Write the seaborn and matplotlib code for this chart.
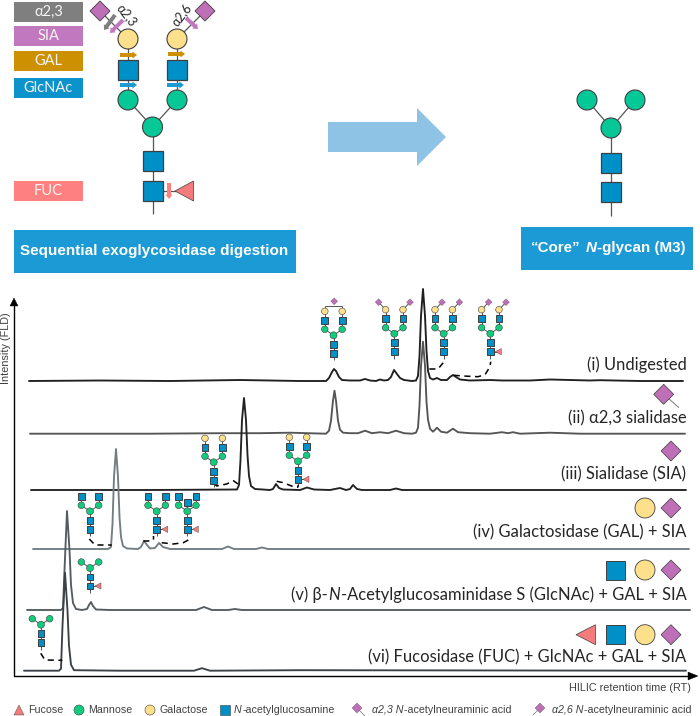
import matplotlib
matplotlib.use("Agg")
import matplotlib.pyplot as plt
from matplotlib.patches import Circle, Rectangle, Polygon, FancyArrow
import pandas as pd
import seaborn as sns

# chromatogram traces (retention position, peak height)
trace_i_rt = [29, 100, 170, 240, 300, 326, 329, 332, 334, 336, 339, 342, 350, 360, 365, 370, 376, 380, 384, 388, 391, 394, 397, 400, 404, 412, 416, 418, 419.5, 421, 423, 425, 426.5, 428, 430, 433, 437, 441, 447, 450, 453, 456, 460, 470, 490, 502, 530, 550, 590, 600, 640, 683]
trace_i_h = [0, 0.5, 0, 1, 0, 0, 3, 9, 12, 10, 4, 1, 0.5, 0.5, 2, 0.5, 0, 1.5, 0.5, 1, 4, 11, 7, 3, 1, 0, 0.5, 5, 25, 65, 92, 65, 30, 10, 3, 1.5, 3, 1, 1, 4, 6, 4, 1.5, 0.5, 1, 0.5, 0.5, 1.5, 0.5, 0.8, 0, 0]

trace_ii_rt = [30, 150, 220, 260, 290, 326, 329, 331, 333, 334.5, 336, 338, 340, 343, 350, 358, 365, 372, 380, 388, 396, 404, 412, 416, 418, 419.5, 421, 423, 425, 426.5, 428, 430, 433, 437, 441, 447, 453, 458, 470, 490, 502, 508, 513, 520, 550, 580, 685]
trace_ii_h = [0, 0, 0.5, 0.5, 1, 0, 3, 13, 33, 43, 33, 13, 4, 1, 0.5, 0.5, 3, 0.5, 1.5, 0.5, 3, 0.5, 0, 1, 6, 28, 68, 92, 68, 32, 14, 5, 2, 6, 2, 1, 5, 1.5, 0.5, 0, 1.5, 0.5, 1.5, 0, 1, 0, 0]

trace_iii_rt = [31, 150, 237, 239, 240.5, 242, 244, 246, 247.5, 249, 251, 255, 270, 273, 276, 279, 283, 300, 307, 314, 330, 340, 346, 350, 353, 357, 362, 390, 396, 402, 686]
trace_iii_h = [0, 0, 0.5, 5, 30, 70, 92, 70, 35, 14, 4, 1, 0, 1, 6, 2, 0.5, 0, 2.5, 0.5, 0, 2, 0, 1, 5, 1, 0, 0, 1.5, 0, 0]

trace_iv_rt = [33, 108, 111, 112.5, 114, 116, 118, 119.5, 121, 123, 127, 138, 141, 144, 147, 150, 155, 159, 163, 170, 222, 228, 234, 256, 262, 268, 689]
trace_iv_h = [0, 0, 2, 25, 72, 100, 72, 32, 12, 3, 0.5, 0, 2, 8, 4, 0.5, 1, 6, 2, 0, 0, 2.5, 0, 0, 1.5, 0, 0]

trace_v_rt = [27, 61, 63, 64.5, 67, 69.5, 71, 73, 76, 82, 87, 89, 91, 93, 96, 110, 196, 204, 212, 228, 235, 242, 690]
trace_v_h = [0, 0, 2, 40, 99, 60, 25, 7, 1, 0, 1, 5, 8, 4, 0.5, 0, 0, 3, 0, 0, 1, 0, 0]

trace_vi_rt = [24, 59, 61, 62.5, 65, 67.5, 69, 71, 74, 120, 194, 202, 210, 300, 686]
trace_vi_h = [0, 0, 2, 45, 98, 60, 25, 6, 0.5, 0, 0, 2.5, 0, 0.5, 0]

trace_rts = [trace_i_rt, trace_ii_rt, trace_iii_rt, trace_iv_rt, trace_v_rt, trace_vi_rt]
trace_heights = [trace_i_h, trace_ii_h, trace_iii_h, trace_iv_h, trace_v_h, trace_vi_h]
trace_baselines = [381, 433.7, 490, 549, 610, 670.7]
trace_colors = ["#1f1f1f", "#555555", "#222222", "#737c82", "#545c62", "#3c4146"]

trace_labels = [
    [("(i) Undigested", "normal")],
    [("(ii) α2,3 sialidase", "normal")],
    [("(iii) Sialidase (SIA)", "normal")],
    [("(iv) Galactosidase (GAL) + SIA", "normal")],
    [("(v) β-", "normal"), ("N", "italic"), ("-Acetylglucosaminidase S (GlcNAc) + GAL + SIA", "normal")],
    [("(vi) Fucosidase (FUC) + GlcNAc + GAL + SIA", "normal")],
]
label_y = [364.5, 418, 474.5, 532.5, 595, 657.5]

box_names = ["α2,3", "SIA", "GAL", "GlcNAc", "FUC"]
box_tops = [2, 26, 51, 78, 181]
box_colors = ["#7f7f7f", "#c278bf", "#cc9000", "#0d93cb", "#ff8080"]

MAN = "#06c896"
MAN_SMALL = "#10cc7c"
GAL = "#fde08c"
GLC = "#0090c8"
SIA = "#bf6fb8"
FUC = "#f47c7c"
EDGE = "#3f3f3f"
LINK = "#555555"

plt.rcdefaults()
sns.set_style("white")
plt.rcParams["font.family"] = ["Lato", "DejaVu Sans"]

fig = plt.figure(figsize=(7.0, 7.16), dpi=100)
ax = fig.add_axes([0, 0, 1, 1])
ax.set_xlim(0, 700)
ax.set_ylim(716, 0)
ax.axis("off")


def circle(x, y, r, color, lw=0.6):
    ax.add_patch(Circle((x, y), r, fc=color, ec=EDGE, lw=lw, zorder=4))


def square(x, y, s, color=GLC, lw=0.7):
    ax.add_patch(Rectangle((x - s / 2, y - s / 2), s, s, fc=color, ec=EDGE, lw=lw, zorder=4))


def diamond(x, y, r, lw=0.5):
    ax.add_patch(Polygon([(x - r, y), (x, y - r), (x + r, y), (x, y + r)], fc=SIA, ec=EDGE, lw=lw, zorder=4))


def triangle(x_tip, x_back, y, half, lw=0.5):
    ax.add_patch(Polygon([(x_tip, y), (x_back, y - half), (x_back, y + half)], fc=FUC, ec=EDGE, lw=lw, zorder=4))


def link(x1, y1, x2, y2, color=LINK, lw=0.7):
    ax.plot([x1, x2], [y1, y2], color=color, lw=lw, zorder=2, solid_capstyle="butt")


def small_glycan(x, root, gal=True, sia=None, fuc=False, bisect=False):
    # same layout for every little structure above the peaks
    arm = 8.7
    r_c, s_q = 3.3, 6.7
    link(x, root + 7, x, root - 18)
    square(x, root, s_q)
    square(x, root - 9, s_q)
    circle(x, root - 18, r_c + 0.2, MAN_SMALL, 0.4)
    for side in (-1, 1):
        ax_x = x + side * arm
        link(x, root - 18, ax_x, root - 24)
        circle(ax_x, root - 24, r_c, MAN_SMALL, 0.4)
    if fuc:
        link(x, root, x + 9, root)
        triangle(x + 5, x + 11, root, 3.2, 0.3)
    if bisect:
        square(x, root - 27, s_q)
        link(x, root - 18, x, root - 27)
    if gal is None:
        return
    for side in (-1, 1):
        ax_x = x + side * arm
        link(ax_x, root - 24, ax_x, root - 42 if gal else root - 33)
        square(ax_x, root - 33, s_q)
        if gal:
            circle(ax_x, root - 42, r_c, GAL, 0.4)
    if sia == "one":
        link(x - arm, root - 47, x + arm, root - 47)
        link(x - arm, root - 42, x - arm, root - 47)
        link(x + arm, root - 42, x + arm, root - 47)
        diamond(x + 0.7, root - 52, 3.4, 0.2)
    elif sia == "outer":
        for side in (-1, 1):
            ax_x = x + side * arm
            link(ax_x, root - 42, ax_x + side * 7, root - 49.5)
            diamond(ax_x + side * 7, root - 49.5, 3.4, 0.2)
    elif sia == "right":
        for side in (-1, 1):
            ax_x = x + side * arm
            link(ax_x, root - 42, ax_x + 7, root - 49.5)
            diamond(ax_x + 7, root - 49.5, 3.4, 0.2)


def runs_text(x, y, runs, ha="left", size=12, color="#262626", family=None, weight="normal"):
    # runs of normal and italic text put side by side
    renderer = fig.canvas.get_renderer()
    family = family or ["Lato", "DejaVu Sans"]
    items = []
    total = 0
    for s, style in runs:
        t = ax.text(0, y, s, fontsize=size, style=style, color=color, family=family, weight=weight, va="center", ha="left")
        w = t.get_window_extent(renderer).width
        items.append((t, w))
        total += w + 0.6
    cur = x - total if ha == "right" else x
    for t, w in items:
        t.set_x(cur)
        cur += w + 0.6


# ---- traces ----
for rt, h, base, col in zip(trace_rts, trace_heights, trace_baselines, trace_colors):
    df = pd.DataFrame({"rt": rt, "signal": [base - v for v in h]})
    sns.lineplot(data=df, x="rt", y="signal", ax=ax, estimator=None, sort=False, color=col, lw=1.35, zorder=3)

ax.set_xlim(0, 700)
ax.set_ylim(716, 0)
ax.set_xlabel("")
ax.set_ylabel("")

for labels, y in zip(trace_labels, label_y):
    runs_text(687, y, labels, ha="right", size=11.9)

# axes arrows of the chromatogram
ax.plot([14, 14, 688], [306, 676, 676], color="black", lw=1.0, zorder=3)
ax.add_patch(Polygon([(10, 306), (18, 306), (14, 298)], fc="black", ec="black", lw=0.3))
ax.add_patch(Polygon([(688, 672), (688, 680), (698, 676)], fc="black", ec="black", lw=0.3))
ax.text(6.5, 348, "Intensity (FLD)", rotation=90, family="Liberation Sans", fontsize=7.8, color="#404040", ha="center", va="center")
ax.text(691, 688, "HILIC retention time (RT)", family="Liberation Sans", fontsize=7.8, color="#404040", ha="right", va="center")

# ---- dashed leaders ----
leaders = [
    ([429.3, 438, 443, 444], [369, 369, 363, 360]),
    ([453.7, 463, 478, 485, 490, 490.7], [375.3, 376, 376.7, 374.7, 366.7, 361.7]),
    ([213.7, 216.7, 226.7, 233.3, 238], [483.3, 486, 484, 480.7, 484]),
    ([276.7, 283.3, 293.3, 297.7, 298.3], [481.3, 482.7, 486.7, 487.3, 485]),
    ([89.3, 95, 111.7], [539, 545, 545]),
    ([143.3, 148, 153.5, 153.5], [541, 541, 540, 536]),
    ([161.7, 173.3, 183.3, 188.3], [542.7, 544, 542.7, 540]),
    ([40.7, 45, 62.3], [653.3, 660, 660.3]),
]
for lx, ly in leaders:
    ax.plot(lx, ly, color="black", lw=1.1, ls=(0, (4, 3)), zorder=3)

# ---- little glycans over the peaks ----
small_glycan(333.5, 353.3, sia="one")
small_glycan(394.3, 351.7, sia="outer")
small_glycan(443.7, 351.7, sia="right")
small_glycan(490.3, 351.7, sia="right", fuc=True)
small_glycan(213.7, 480.3)
small_glycan(298, 479.3, fuc=True)
small_glycan(90, 529.3, gal=False)
small_glycan(156.7, 529.3, gal=False, fuc=True)
small_glycan(187.3, 529.3, gal=False, fuc=True, bisect=True)
small_glycan(90, 586, gal=None, fuc=True)
small_glycan(41, 642.7, gal=None)

# ---- enzyme key beside the labels ----
link(663.7, 394.3, 679, 407.7, color="#777777")
diamond(663.7, 394.3, 10)
diamond(671, 451, 10)
circle(645, 508, 10, GAL)
diamond(671, 508, 10)
square(615.7, 570, 19)
circle(645, 570, 10, GAL)
diamond(671, 570, 10)
triangle(576, 595.5, 634.7, 10)
square(615.7, 634.7, 19)
circle(645, 634.7, 10, GAL)
diamond(671, 634.7, 10)

# ---- top left enzyme boxes ----
for name, top, col in zip(box_names, box_tops, box_colors):
    ax.add_patch(Rectangle((14, top), 69, 19.5, fc=col, ec="none"))
    ax.text(48.5, top + 9.8, name, color="#f4f4f4", fontsize=10.5, ha="center", va="center", family=["Lato", "DejaVu Sans"])

# ---- large glycan ----
link(152.5, 214, 152.5, 127, lw=0.9)
link(152.5, 127, 128, 100, lw=0.9)
link(152.5, 127, 177, 100, lw=0.9)
for gx, dx in ((128, 100), (177, 205)):
    link(gx, 100, gx, 39, lw=0.9)
    link(gx, 39, dx, 11, lw=0.9)
    circle(gx, 100, 10, MAN, 0.8)
    square(gx, 70, 20, lw=0.9)
    circle(gx, 39, 10, GAL, 0.8)
    diamond(dx, 11, 10, 0.6)
circle(152.5, 127, 10, MAN, 0.8)
square(152.5, 161, 20, lw=0.9)
square(152.5, 191, 20, lw=0.9)
link(152.5, 191, 176, 191, lw=0.9)
triangle(175, 193.5, 191, 10)

arrows = [
    (115, 15, -11, 15, "#7f7f7f"),
    (123, 20, -13, 13, "#c278bf"),
    (186, 18, 12, 11, "#c278bf"),
    (120, 55, 17, 0, "#cc9000"),
    (168, 54, 17, 0, "#cc9000"),
    (120, 85, 17, 0, "#1c9ad6"),
    (167, 85, 17, 0, "#1c9ad6"),
    (169, 183, 0, 16, "#ff8080"),
]
for x0, y0, dx, dy, col in arrows:
    ax.add_patch(FancyArrow(x0, y0, dx, dy, width=4, head_width=7, head_length=4.5, length_includes_head=True, fc=col, ec="none", zorder=5))

ax.text(127, 15, "α2,3", rotation=-52, fontsize=9, color="#262626", ha="center", va="center", family=["Lato", "DejaVu Sans"], zorder=6)
ax.text(181, 15, "α2,6", rotation=52, fontsize=9, color="#262626", ha="center", va="center", family=["Lato", "DejaVu Sans"], zorder=6)

# ---- banners and block arrow ----
ax.add_patch(Rectangle((14, 230), 282, 43, fc="#1c9ad6", ec="none"))
ax.text(154.5, 251.5, "Sequential exoglycosidase digestion", color="white", fontsize=11.0, weight="bold", ha="center", va="center", family="Liberation Sans")
ax.add_patch(Rectangle((521, 227), 172, 43, fc="#1c9ad6", ec="none"))
runs_text(531, 248, [("“Core”", "normal")], size=10.9, color="white", family="Liberation Sans", weight="bold")
runs_text(585.5, 248, [("N", "italic"), ("-glycan (M3)", "normal")], size=10.9, color="white", family="Liberation Sans", weight="bold")
ax.add_patch(Polygon([(328, 122), (417, 122), (417, 108), (446, 137), (417, 166), (417, 152), (328, 152)], fc="#8fc3e6", ec="none"))

# ---- core structure on the right ----
link(611, 216, 611, 128, lw=0.9)
link(611, 128, 587, 100, lw=0.9)
link(611, 128, 635, 100, lw=0.9)
circle(587, 100, 10, MAN, 0.8)
circle(635, 100, 10, MAN, 0.8)
circle(611, 128, 10, MAN, 0.8)
square(611, 163, 20, lw=0.9)
square(611, 192, 20, lw=0.9)

# ---- symbol legend along the bottom ----
legend_kw = dict(size=7.7, color="#404040", family="Liberation Sans")
ax.add_patch(Polygon([(14, 715), (24, 715), (19, 705)], fc=FUC, ec=EDGE, lw=0.3))
runs_text(28, 710, [("Fucose", "normal")], **legend_kw)
circle(79, 710, 5, MAN_SMALL, 0.4)
runs_text(88.5, 710, [("Mannose", "normal")], **legend_kw)
circle(150, 710, 5, GAL, 0.4)
runs_text(159, 710, [("Galactose", "normal")], **legend_kw)
square(225, 710, 9.5, lw=0.4)
runs_text(234, 710, [("N", "italic"), ("-acetylglucosamine", "normal")], **legend_kw)
link(357, 708, 365, 716, color="#777777", lw=0.5)
diamond(357, 708, 5, 0.2)
runs_text(372, 710, [("α2,3 N", "italic"), ("-acetylneuraminic acid", "normal")], **legend_kw)
link(540, 708, 533, 715, color="#777777", lw=0.5)
diamond(540, 708, 5, 0.2)
runs_text(552, 710, [("α2,6 N", "italic"), ("-acetylneuraminic acid", "normal")], **legend_kw)

fig.savefig("out.png", dpi=100)
